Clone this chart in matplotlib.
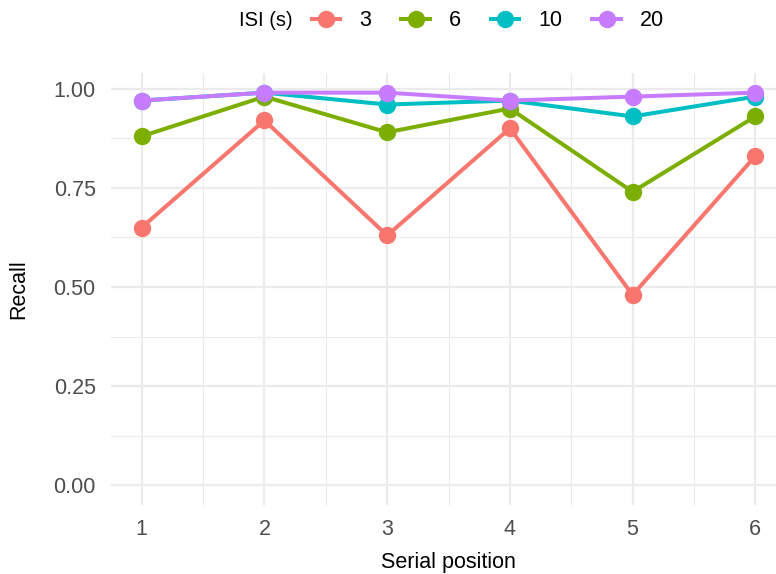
import matplotlib
matplotlib.use("Agg")
import matplotlib.pyplot as plt
from matplotlib.ticker import MultipleLocator

plt.rcParams["font.family"] = ["Liberation Sans", "DejaVu Sans"]

# data
positions = [1, 2, 3, 4, 5, 6]
isi_labels = ["3", "6", "10", "20"]
recall_3 = [0.65, 0.92, 0.63, 0.90, 0.48, 0.83]
recall_6 = [0.88, 0.98, 0.89, 0.95, 0.74, 0.93]
recall_10 = [0.97, 0.99, 0.96, 0.97, 0.93, 0.98]
recall_20 = [0.97, 0.99, 0.99, 0.97, 0.98, 0.99]
colors = ["#F8766D", "#7CAE00", "#00BFC4", "#C77CFF"]

fig = plt.figure(figsize=(7.76, 5.74), dpi=100)
ax = fig.add_axes([111 / 776, 1 - 505 / 574, 675 / 776, (505 - 73) / 574])

handles = []
for vals, c, lab in zip([recall_3, recall_6, recall_10, recall_20], colors, isi_labels):
    h, = ax.plot(positions, vals, color=c, lw=2.9, marker="o", ms=11.5, label=lab,
                 solid_capstyle="butt")
    handles.append(h)

ax.set_xlim(0.75, 6.25)
ax.set_ylim(-0.0495, 1.0395)
ax.xaxis.set_major_locator(MultipleLocator(1))
ax.xaxis.set_minor_locator(MultipleLocator(0.5))
ax.yaxis.set_major_locator(MultipleLocator(0.25))
ax.yaxis.set_minor_locator(MultipleLocator(0.125))
ax.yaxis.set_major_formatter(lambda v, p: f"{v:.2f}")

ax.grid(True, which="major", color="#EBEBEB", lw=1.6)
ax.grid(True, which="minor", color="#EBEBEB", lw=0.8)
ax.set_axisbelow(True)
for s in ax.spines.values():
    s.set_visible(False)
ax.tick_params(which="both", length=0, labelsize=15.5, labelcolor="#4D4D4D")
ax.tick_params(axis="y", pad=11)
ax.tick_params(axis="x", pad=10)

ax.set_xlabel("Serial position", fontsize=15.5, labelpad=9)
ax.set_ylabel("Recall", fontsize=15.5, labelpad=17)

fig.text(239 / 776, 1 - 21 / 574, "ISI (s)", fontsize=14.5, va="center")
fig.legend(handles=handles, labels=isi_labels, ncol=4, loc="center left",
           bbox_to_anchor=(310 / 776, 1 - 21 / 574), frameon=False, fontsize=15.5,
           handlelength=1.5, columnspacing=1.3, handletextpad=0.8,
           borderaxespad=0, borderpad=0)

fig.savefig("out.png", dpi=100)
